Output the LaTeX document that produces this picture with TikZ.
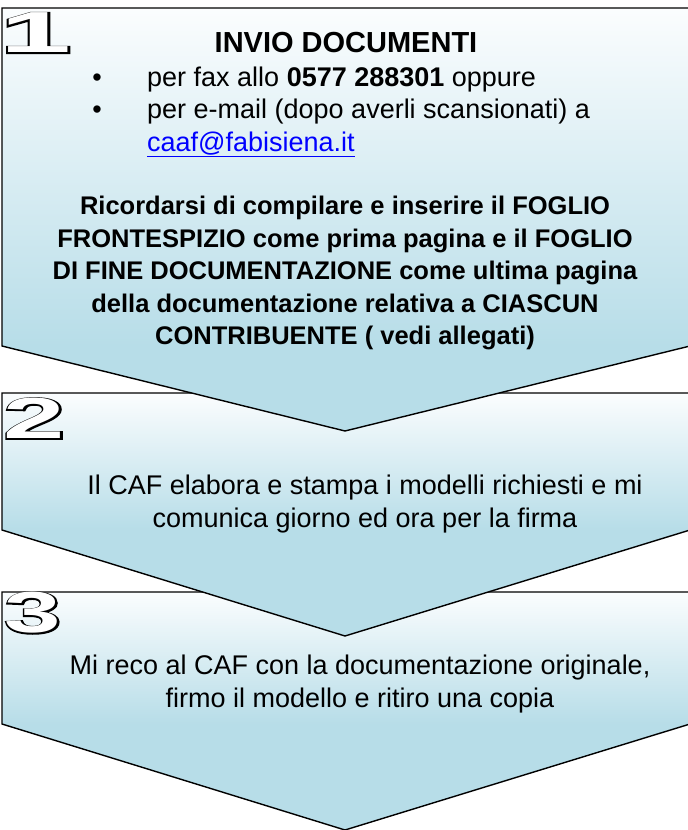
\documentclass[tikz,border=0pt]{standalone}
\usepackage{fontspec}
\setmainfont{Liberation Sans}
\newfontfamily\numfont{Liberation Sans Bold}
\newfontfamily\numfatfont[FakeBold=4]{Liberation Sans Bold}
\definecolor{stepblue}{HTML}{B7DDE8}
\definecolor{steptop}{HTML}{FBFDFE}
\definecolor{linkblue}{HTML}{0000FF}
\newcommand{\hollownum}[2]{\scalebox{#1}[1]{\rlap{\numfatfont #2}\textcolor{white}{\numfont #2}}}
\begin{document}
\begin{tikzpicture}[x=1pt,y=-1pt,
    chevron/.style={draw=black,line width=1.4pt,line join=miter},
    numlabel/.style={font=\fontsize{58}{58}\selectfont,inner sep=0pt},
    titletext/.style={font=\fontsize{29}{34}\selectfont\bfseries,inner sep=0pt,anchor=base},
    bullettext/.style={font=\fontsize{27}{32.5}\selectfont,inner sep=0pt,anchor=base west},
    bolltext/.style={font=\fontsize{25.5}{32.5}\selectfont\bfseries,align=center,inner sep=0pt},
    steptext/.style={font=\fontsize{27}{33.5}\selectfont,align=center,inner sep=0pt}]
    \useasboundingbox (0,0) rectangle (688,830);
    \clip (0,0) rectangle (688,830);
    % Step 3 (lies under step 2)
    \fill[stepblue] (2,592) -- (690,592) -- (690,724) -- (345,830) -- (2,724) -- cycle;
    \shade[top color=steptop,bottom color=stepblue] (2,592) rectangle (690,724);
    \draw[chevron] (2,592) -- (690,592) -- (690,724) -- (345,830) -- (2,724) -- cycle;
    % Step 2 (lies under step 1)
    \fill[stepblue] (2,393) -- (690,393) -- (690,530) -- (345,636) -- (2,530) -- cycle;
    \shade[top color=steptop,bottom color=stepblue] (2,393) rectangle (690,530);
    \draw[chevron] (2,393) -- (690,393) -- (690,530) -- (345,636) -- (2,530) -- cycle;
    % Step 1
    \fill[stepblue] (2,8) -- (690,8) -- (690,346) -- (345,431) -- (2,346) -- cycle;
    \shade[top color=steptop,bottom color=stepblue] (2,8) rectangle (690,346);
    \draw[chevron] (2,8) -- (690,8) -- (690,346) -- (345,431) -- (2,346) -- cycle;
    % Numbers
    \node[numlabel] (num1) at (36,33) {\hollownum{2.2}{1}};
    \node[numlabel] (num2) at (34.5,418.5) {\hollownum{1.9}{2}};
    \node[numlabel] (num3) at (33,613) {\hollownum{1.75}{3}};
    % Step 1 text
    \node[titletext] (title) at (346,52) {INVIO DOCUMENTI};
    \node[bullettext,anchor=base] (dot1) at (97,86) {\textbullet};
    \node[bullettext] (fax) at (147,86) {per fax allo \textbf{0577 288301} oppure};
    \node[bullettext,anchor=base] (dot2) at (97,118) {\textbullet};
    \node[bullettext] (mail) at (147,118) {per e-mail (dopo averli scansionati) a};
    \node[bullettext] (link) at (147,151) {\textcolor{linkblue}{\underline{caaf@fabisiena.it}}};
    \node[bolltext] (remind) at (345,273) {Ricordarsi di compilare e inserire il FOGLIO\\
        FRONTESPIZIO come prima pagina e il FOGLIO\\
        DI FINE DOCUMENTAZIONE come ultima pagina\\
        della documentazione relativa a CIASCUN\\
        CONTRIBUENTE ( vedi allegati)};
    % Step 2 text
    \node[steptext] (elab) at (365,504) {Il CAF elabora e stampa i modelli richiesti e mi\\
        comunica giorno ed ora per la firma};
    % Step 3 text
    \node[steptext] (sign) at (360,684) {Mi reco al CAF con la documentazione originale,\\
        firmo il modello e ritiro una copia};
\end{tikzpicture}
\end{document}
